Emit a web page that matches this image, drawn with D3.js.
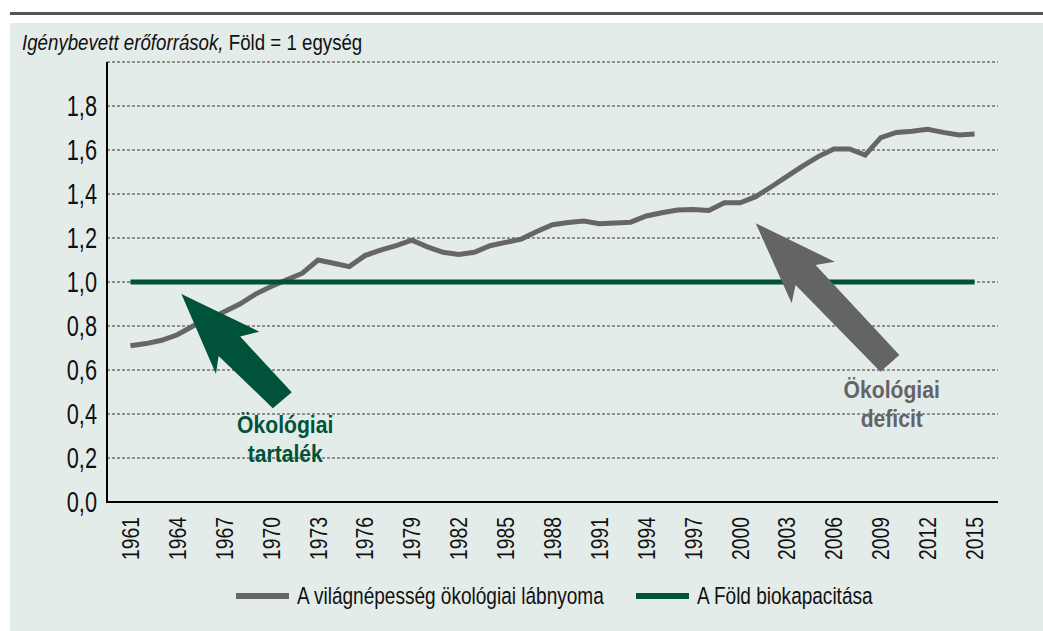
<!DOCTYPE html>
<html>
<head>
<meta charset="utf-8">
<script src="https://cdn.jsdelivr.net/npm/d3@7"></script>
<style>
  body { margin: 0; background: #fff; }
  svg text { font-family: "Liberation Sans", Arial, sans-serif; }
</style>
</head>
<body>
<div id="chart"></div>
<script>
// years and footprint (number of Earths)
const years = d3.range(1961, 2016);
const footprint = [
  0.71, 0.72, 0.735, 0.76, 0.80, 0.83, 0.865, 0.90, 0.945, 0.98,
  1.01, 1.04, 1.10, 1.085, 1.07, 1.12, 1.145, 1.165, 1.19, 1.16,
  1.135, 1.125, 1.135, 1.165, 1.18, 1.195, 1.23, 1.26, 1.27, 1.277,
  1.265, 1.268, 1.272, 1.30, 1.315, 1.327, 1.33, 1.325, 1.36, 1.36,
  1.388, 1.433, 1.48, 1.527, 1.57, 1.605, 1.605, 1.577, 1.656, 1.68,
  1.685, 1.694, 1.68, 1.668, 1.673
];
const biocapacity = years.map(() => 1.0);

const yTicks = [0, 0.2, 0.4, 0.6, 0.8, 1.0, 1.2, 1.4, 1.6, 1.8, 2.0];
const xLabels = d3.range(1961, 2016, 3);

const seriesNames = ["A világnépesség ökológiai lábnyoma", "A Föld biokapacitása"];
const seriesColors = ["#666666", "#00533a"];

// annotation arrows, in [year, value]
const reserveArrow = [[1964.26, 0.945], [1969.25, 0.774], [1968.02, 0.752], [1971.32, 0.499],
                      [1970.11, 0.426], [1966.64, 0.664], [1966.47, 0.582]];
const deficitArrow = [[2001.0, 1.267], [2006.06, 1.092], [2004.83, 1.077], [2010.19, 0.668],
                      [2008.98, 0.592], [2003.55, 0.986], [2003.30, 0.903]];
const reserveLabel = { year: 1970.9, lines: [["Ökológiai", 0.314], ["tartalék", 0.182]] };
const deficitLabel = { year: 2009.7, lines: [["Ökológiai", 0.473], ["deficit", 0.341]] };

const width = 1043, height = 631;
const plotL = 107, plotR = 998, plotT = 62, plotB = 502;

// no condensed font installed, so squeeze text horizontally
const narrow = (px, py, s, rot) =>
    `translate(${px},${py})` + (rot ? ` rotate(${rot})` : "") + ` scale(${s},1)`;

const svg = d3.select("#chart").append("svg")
    .attr("width", width)
    .attr("height", height);

// panel + top rule
svg.append("rect").attr("x", 10).attr("y", 23).attr("width", width - 10).attr("height", height - 23)
    .attr("fill", "#e4ecea");
svg.append("rect").attr("x", 10).attr("y", 12).attr("width", width - 10).attr("height", 3)
    .attr("fill", "#555");

const x = d3.scaleLinear().domain([1959.5, 2016.5]).range([plotL, plotR]);
const y = d3.scaleLinear().domain([0, 2]).range([plotB, plotT]);

svg.append("text")
    .attr("transform", narrow(22, 50, 0.85))
    .style("font-size", "22px").attr("fill", "#111")
    .call(t => {
        t.append("tspan").style("font-style", "italic").text("Igénybevett erőforrások,");
        t.append("tspan").text(" Föld = 1 egység");
    });

// grid
svg.append("g")
    .selectAll("line")
    .data(yTicks.filter(d => d > 0))
    .enter().append("line")
    .attr("x1", plotL).attr("x2", plotR)
    .attr("y1", d => y(d)).attr("y2", d => y(d))
    .attr("stroke", "#333").attr("stroke-width", 1)
    .attr("stroke-dasharray", "3,2");

// y labels
svg.append("g")
    .selectAll("text")
    .data(yTicks.filter(d => d < 2))
    .enter().append("text")
    .attr("transform", d => narrow(97, y(d), 0.75))
    .attr("dy", "0.36em")
    .attr("text-anchor", "end")
    .style("font-size", "29px").attr("fill", "#111")
    .text(d => d3.format(".1f")(d).replace(".", ","));

// x labels
svg.append("g")
    .selectAll("text")
    .data(xLabels)
    .enter().append("text")
    .attr("transform", d => narrow(x(d) + 8.5, 517, 0.79, -90))
    .attr("text-anchor", "end")
    .style("font-size", "24.5px").attr("fill", "#111")
    .text(d => d);

const line = d3.line().x((d, i) => x(years[i])).y(d => y(d));

svg.append("path").datum(footprint)
    .attr("d", line).attr("fill", "none")
    .attr("stroke", seriesColors[0]).attr("stroke-width", 5)
    .attr("stroke-linejoin", "miter");

svg.append("path").datum(biocapacity)
    .attr("d", line).attr("fill", "none")
    .attr("stroke", seriesColors[1]).attr("stroke-width", 5);

// axes
svg.append("line").attr("x1", plotL).attr("x2", plotL).attr("y1", plotT).attr("y2", plotB + 1)
    .attr("stroke", "#000").attr("stroke-width", 2);
svg.append("line").attr("x1", plotL - 1).attr("x2", plotR).attr("y1", plotB).attr("y2", plotB)
    .attr("stroke", "#000").attr("stroke-width", 2);

// arrows
const arrowPath = d3.line().x(d => x(d[0])).y(d => y(d[1]));
svg.append("path").attr("d", arrowPath(reserveArrow) + "Z").attr("fill", "#00533a");
svg.append("path").attr("d", arrowPath(deficitArrow) + "Z").attr("fill", "#646466");

function label(spec, color) {
    svg.append("g").selectAll("text")
        .data(spec.lines)
        .enter().append("text")
        .attr("transform", d => narrow(x(spec.year), y(d[1]), 0.88))
        .attr("text-anchor", "middle")
        .style("font-size", "24px").style("font-weight", "bold")
        .attr("fill", color)
        .text(d => d[0]);
}
label(reserveLabel, "#00533a");
label(deficitLabel, "#646466");

// legend
const legendX = [236, 636];
const legend = svg.append("g").selectAll("g")
    .data(seriesNames)
    .enter().append("g")
    .attr("transform", (d, i) => `translate(${legendX[i]},596)`);
legend.append("line").attr("x1", 0).attr("x2", 53).attr("y1", 0).attr("y2", 0)
    .attr("stroke", (d, i) => seriesColors[i]).attr("stroke-width", 6);
legend.append("text")
    .attr("transform", narrow(61, 0, 0.81))
    .attr("dy", "0.36em")
    .style("font-size", "23.5px").attr("fill", "#111")
    .text(d => d);
</script>
</body>
</html>
